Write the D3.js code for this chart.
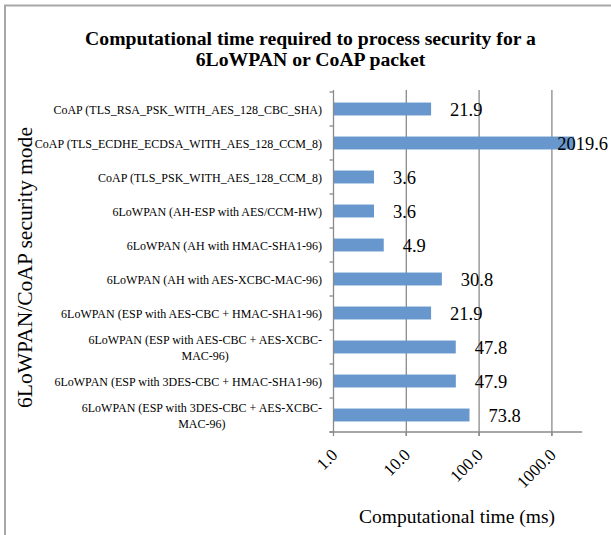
<!DOCTYPE html>
<html>
<head>
<meta charset="utf-8">
<script src="https://cdn.jsdelivr.net/npm/d3@7"></script>
<style>
  html, body { margin: 0; padding: 0; background: #fff; }
  svg { display: block; }
  text { font-family: "Liberation Serif", "Times New Roman", serif; fill: #000; }
</style>
</head>
<body>
<svg id="chart" width="611" height="535"></svg>
<script>
// ---- data (top to bottom as drawn) ----
const categories = [
  "CoAP (TLS_RSA_PSK_WITH_AES_128_CBC_SHA)",
  "CoAP (TLS_ECDHE_ECDSA_WITH_AES_128_CCM_8)",
  "CoAP (TLS_PSK_WITH_AES_128_CCM_8)",
  "6LoWPAN (AH-ESP with AES/CCM-HW)",
  "6LoWPAN (AH with HMAC-SHA1-96)",
  "6LoWPAN (AH with AES-XCBC-MAC-96)",
  "6LoWPAN (ESP with AES-CBC + HMAC-SHA1-96)",
  "6LoWPAN (ESP with AES-CBC + AES-XCBC-\nMAC-96)",
  "6LoWPAN (ESP with 3DES-CBC + HMAC-SHA1-96)",
  "6LoWPAN (ESP with 3DES-CBC + AES-XCBC-\nMAC-96)"
];
const times = [21.9, 2019.6, 3.6, 3.6, 4.9, 30.8, 21.9, 47.8, 47.9, 73.8];
const valueLabels = ["21.9", "2019.6", "3.6", "3.6", "4.9", "30.8", "21.9", "47.8", "47.9", "73.8"];
const xTicks = [1, 10, 100, 1000];
const xTickLabels = ["1.0", "10.0", "100.0", "1000.0"];
const titleLines = ["Computational time required to process security for a", "6LoWPAN or CoAP packet"];
const xTitle = "Computational time (ms)";
const yTitle = "6LoWPAN/CoAP security mode";

// ---- layout ----
const svg = d3.select("#chart");
const plotLeft = 333.5, plotTop = 92, plotBottom = 432;
const decade = 72.8;
const xMax = 2600;
const x = d3.scaleLog().domain([1, xMax]).range([plotLeft, plotLeft + decade * Math.log10(xMax)]);
const y = d3.scaleBand().domain(categories).range([plotTop, plotBottom]).paddingInner(0.62).paddingOuter(0.31);
const gridColor = "#8a8a8a";

// scale a text's font size so its rendered width matches a target width
function fitWidth(sel, baseSize, target) {
  sel.attr("font-size", baseSize);
  const w = sel.node().getComputedTextLength();
  if (w > 0) sel.attr("font-size", baseSize * target / w);
  return sel;
}

// outer border (only top/left visible)
svg.append("rect").attr("x", 5).attr("y", 5.5).attr("width", 800).attr("height", 800)
  .attr("fill", "none").attr("stroke", "#a8a8a8").attr("stroke-width", 2);

// title
const t1 = svg.append("text").attr("x", 310.5).attr("y", 45)
  .attr("text-anchor", "middle").attr("font-weight", "bold").text(titleLines[0]);
fitWidth(t1, 19, 451);
const titleSize = +t1.attr("font-size");
svg.append("text").attr("x", 310.5).attr("y", 66)
  .attr("text-anchor", "middle").attr("font-weight", "bold").attr("font-size", titleSize).text(titleLines[1]);

// vertical gridlines
svg.append("g").selectAll("line").data(xTicks.filter(t => t > 1)).join("line")
  .attr("x1", d => x(d)).attr("x2", d => x(d))
  .attr("y1", plotTop - 2).attr("y2", plotBottom + 4)
  .attr("stroke", gridColor).attr("stroke-width", 1.3);

// bars
svg.append("g").selectAll("rect").data(categories).join("rect")
  .attr("x", x(1)).attr("y", d => y(d))
  .attr("width", (d, i) => x(times[i]) - x(1))
  .attr("height", y.bandwidth())
  .attr("fill", "#6897cd");

// y axis line and ticks
svg.append("line").attr("x1", plotLeft).attr("x2", plotLeft).attr("y1", plotTop - 2).attr("y2", plotBottom)
  .attr("stroke", gridColor).attr("stroke-width", 1.3);
const boundaries = d3.range(categories.length + 1).map(i => plotTop + i * y.step());
svg.append("g").selectAll("line").data(boundaries).join("line")
  .attr("x1", plotLeft - 4).attr("x2", plotLeft).attr("y1", d => d).attr("y2", d => d)
  .attr("stroke", gridColor).attr("stroke-width", 1.3);

// x axis line and ticks
svg.append("line").attr("x1", plotLeft - 4).attr("x2", x.range()[1]).attr("y1", plotBottom).attr("y2", plotBottom)
  .attr("stroke", gridColor).attr("stroke-width", 1.3);
svg.append("g").selectAll("line").data(xTicks).join("line")
  .attr("x1", d => x(d)).attr("x2", d => x(d)).attr("y1", plotBottom).attr("y2", plotBottom + 4)
  .attr("stroke", gridColor).attr("stroke-width", 1.3);

// x tick labels (rotated)
svg.append("g").selectAll("text").data(xTicks).join("text")
  .attr("transform", d => `translate(${x(d) + 5},${plotBottom + 24}) rotate(-45)`)
  .attr("text-anchor", "end").attr("font-size", 17)
  .text((d, i) => xTickLabels[i]);

// category labels
const catG = svg.append("g");
categories.forEach((c, i) => {
  const lines = c.split("\n");
  const cy = y(c) + y.bandwidth() / 2;
  const rightEdge = 322;
  const t = catG.append("text").attr("font-size", 12);
  if (lines.length === 1) {
    t.attr("x", rightEdge).attr("y", cy + 5).attr("text-anchor", "end").text(c);
  } else {
    const tmp = catG.append("text").attr("font-size", 12);
    const widths = lines.map(l => { tmp.text(l); return tmp.node().getComputedTextLength(); });
    tmp.remove();
    const w = d3.max(widths);
    const cx = rightEdge - w / 2;
    t.attr("text-anchor", "middle");
    lines.forEach((l, j) => {
      t.append("tspan").attr("x", cx).attr("y", cy - 3 + j * 15.5).text(l);
    });
  }
});

// value labels
const chartRight = 608;
const vG = svg.append("g");
times.forEach((v, i) => {
  const cy = y(categories[i]) + y.bandwidth() / 2;
  const t = vG.append("text").attr("font-size", 18.5).attr("y", cy + 6.5).text(valueLabels[i]);
  const w = t.node().getComputedTextLength();
  let sx = x(v) + 19;
  if (sx + w > chartRight) sx = chartRight - w;
  t.attr("x", sx);
});

// axis titles
const xt = svg.append("text").attr("x", 457).attr("y", 523).attr("text-anchor", "middle").text(xTitle);
fitWidth(xt, 18.5, 196);
const yt = svg.append("text").attr("transform", `translate(31.5,267.5) rotate(-90)`)
  .attr("text-anchor", "middle").text(yTitle);
fitWidth(yt, 20, 281);
</script>
</body>
</html>
